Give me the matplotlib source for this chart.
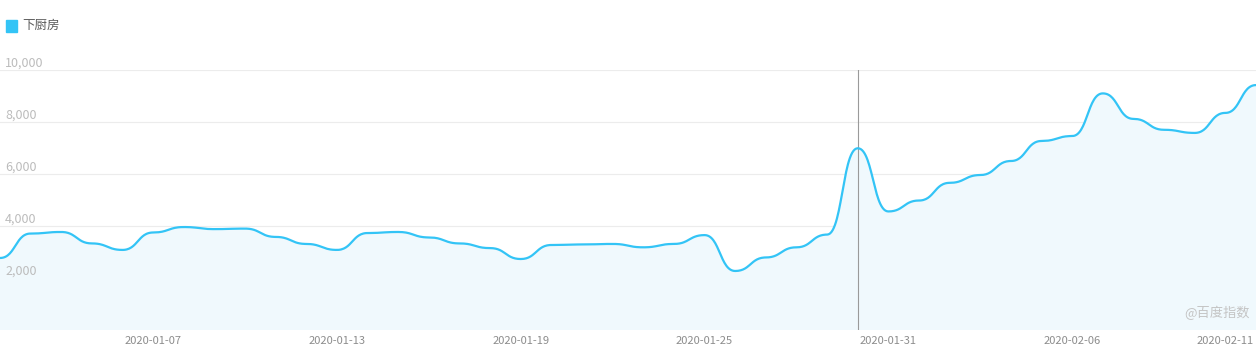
import numpy as np
import matplotlib
matplotlib.use("Agg")
import matplotlib.pyplot as plt

plt.rcParams['font.family'] = ['Noto Sans CJK SC', 'DejaVu Sans']

# daily values, 2020-01-02 .. 2020-02-12
dates = ["01-02", "01-03", "01-04", "01-05", "01-06", "01-07", "01-08", "01-09",
         "01-10", "01-11", "01-12", "01-13", "01-14", "01-15", "01-16", "01-17",
         "01-18", "01-19", "01-20", "01-21", "01-22", "01-23", "01-24", "01-25",
         "01-26", "01-27", "01-28", "01-29", "01-30", "01-31", "02-01", "02-02",
         "02-03", "02-04", "02-05", "02-06", "02-07", "02-08", "02-09", "02-10",
         "02-11", "02-12"]
values = [2770, 3710, 3770, 3330, 3080, 3750, 3960, 3880,
          3900, 3580, 3310, 3080, 3730, 3770, 3560, 3330,
          3150, 2730, 3270, 3290, 3310, 3180, 3310, 3650,
          2270, 2790, 3180, 3670, 6990, 4560, 4980, 5660,
          5960, 6500, 7270, 7460, 9100, 8120, 7700, 7580,
          8350, 9420]
tick_dates = ["01-07", "01-13", "01-19", "01-25", "01-31", "02-06", "02-11"]
yticks = [2000, 4000, 6000, 8000, 10000]
series_name = "下厨房"
hover_date = "01-30"

line_color = "#33c4f6"
W, H = 1256, 360
ax_bottom, ax_top = 330, 70  # pixel rows of y=0 and y=10000


def smooth_x(xs, ys, smooth=0.5, n=30):
    # monotone-x bezier: flat tangent at every point
    out_x, out_y = [xs[0]], [ys[0]]
    t = np.linspace(0, 1, n)[1:]
    a, b, c, d = (1 - t) ** 3, 3 * (1 - t) ** 2 * t, 3 * (1 - t) * t ** 2, t ** 3
    for i in range(1, len(xs)):
        x0, y0, x1, y1 = xs[i - 1], ys[i - 1], xs[i], ys[i]
        dx = x1 - x0
        out_x.extend(a * x0 + b * (x0 + smooth * dx) + c * (x1 - smooth * dx) + d * x1)
        out_y.extend(a * y0 + b * y0 + c * y1 + d * y1)
    return np.array(out_x), np.array(out_y)


idx = np.arange(len(values))
cx, cy = smooth_x(idx, np.array(values, dtype=float))

fig = plt.figure(figsize=(W / 100, H / 100), dpi=100)
ax = fig.add_axes([0, (H - ax_bottom) / H, 1, (ax_bottom - ax_top) / H])
ax.set_xlim(0, len(values) - 1)
ax.set_ylim(0, 10000)
for s in ax.spines.values():
    s.set_visible(False)
ax.set_xticks([])
ax.set_yticks([])

for v in [0] + yticks:
    ax.axhline(v, color="#ececec", lw=0.8, zorder=1)
for v in yticks:
    ax.annotate(f"{v:,}", xy=(0, v), xycoords="data", xytext=(5, 3),
                textcoords="offset pixels", fontsize=9, color="#bcbcbc",
                ha="left", va="baseline")

ax.fill(np.r_[cx, cx[-1], cx[0]], np.r_[cy, 0, 0], color="#f0f9fd", lw=0, zorder=2)
ax.plot(cx, cy, color=line_color, lw=1.6, zorder=4, solid_capstyle="round")

hx = dates.index(hover_date)
ax.axvline(hx, color="#9a9a9a", lw=0.8, zorder=3)

for d in tick_dates:
    ax.annotate("2020-" + d, xy=(dates.index(d), 0), xycoords="data",
                xytext=(0, -11), textcoords="offset pixels",
                fontsize=8, color="#8c8c8c", ha="center", va="center",
                annotation_clip=False)

ax.text(0.995, 0.065, "@百度指数", transform=ax.transAxes, fontsize=9.5,
        color="#c4c4c4", ha="right", va="center")

fig.patches.append(plt.Rectangle((6 / W, 1 - 32 / H), 11 / W, 12 / H,
                                 transform=fig.transFigure, color=line_color))
fig.text(22 / W, 1 - 25 / H, series_name, fontsize=9, color="#5a5a5a",
         ha="left", va="center")

fig.savefig("out.png", dpi=100)
